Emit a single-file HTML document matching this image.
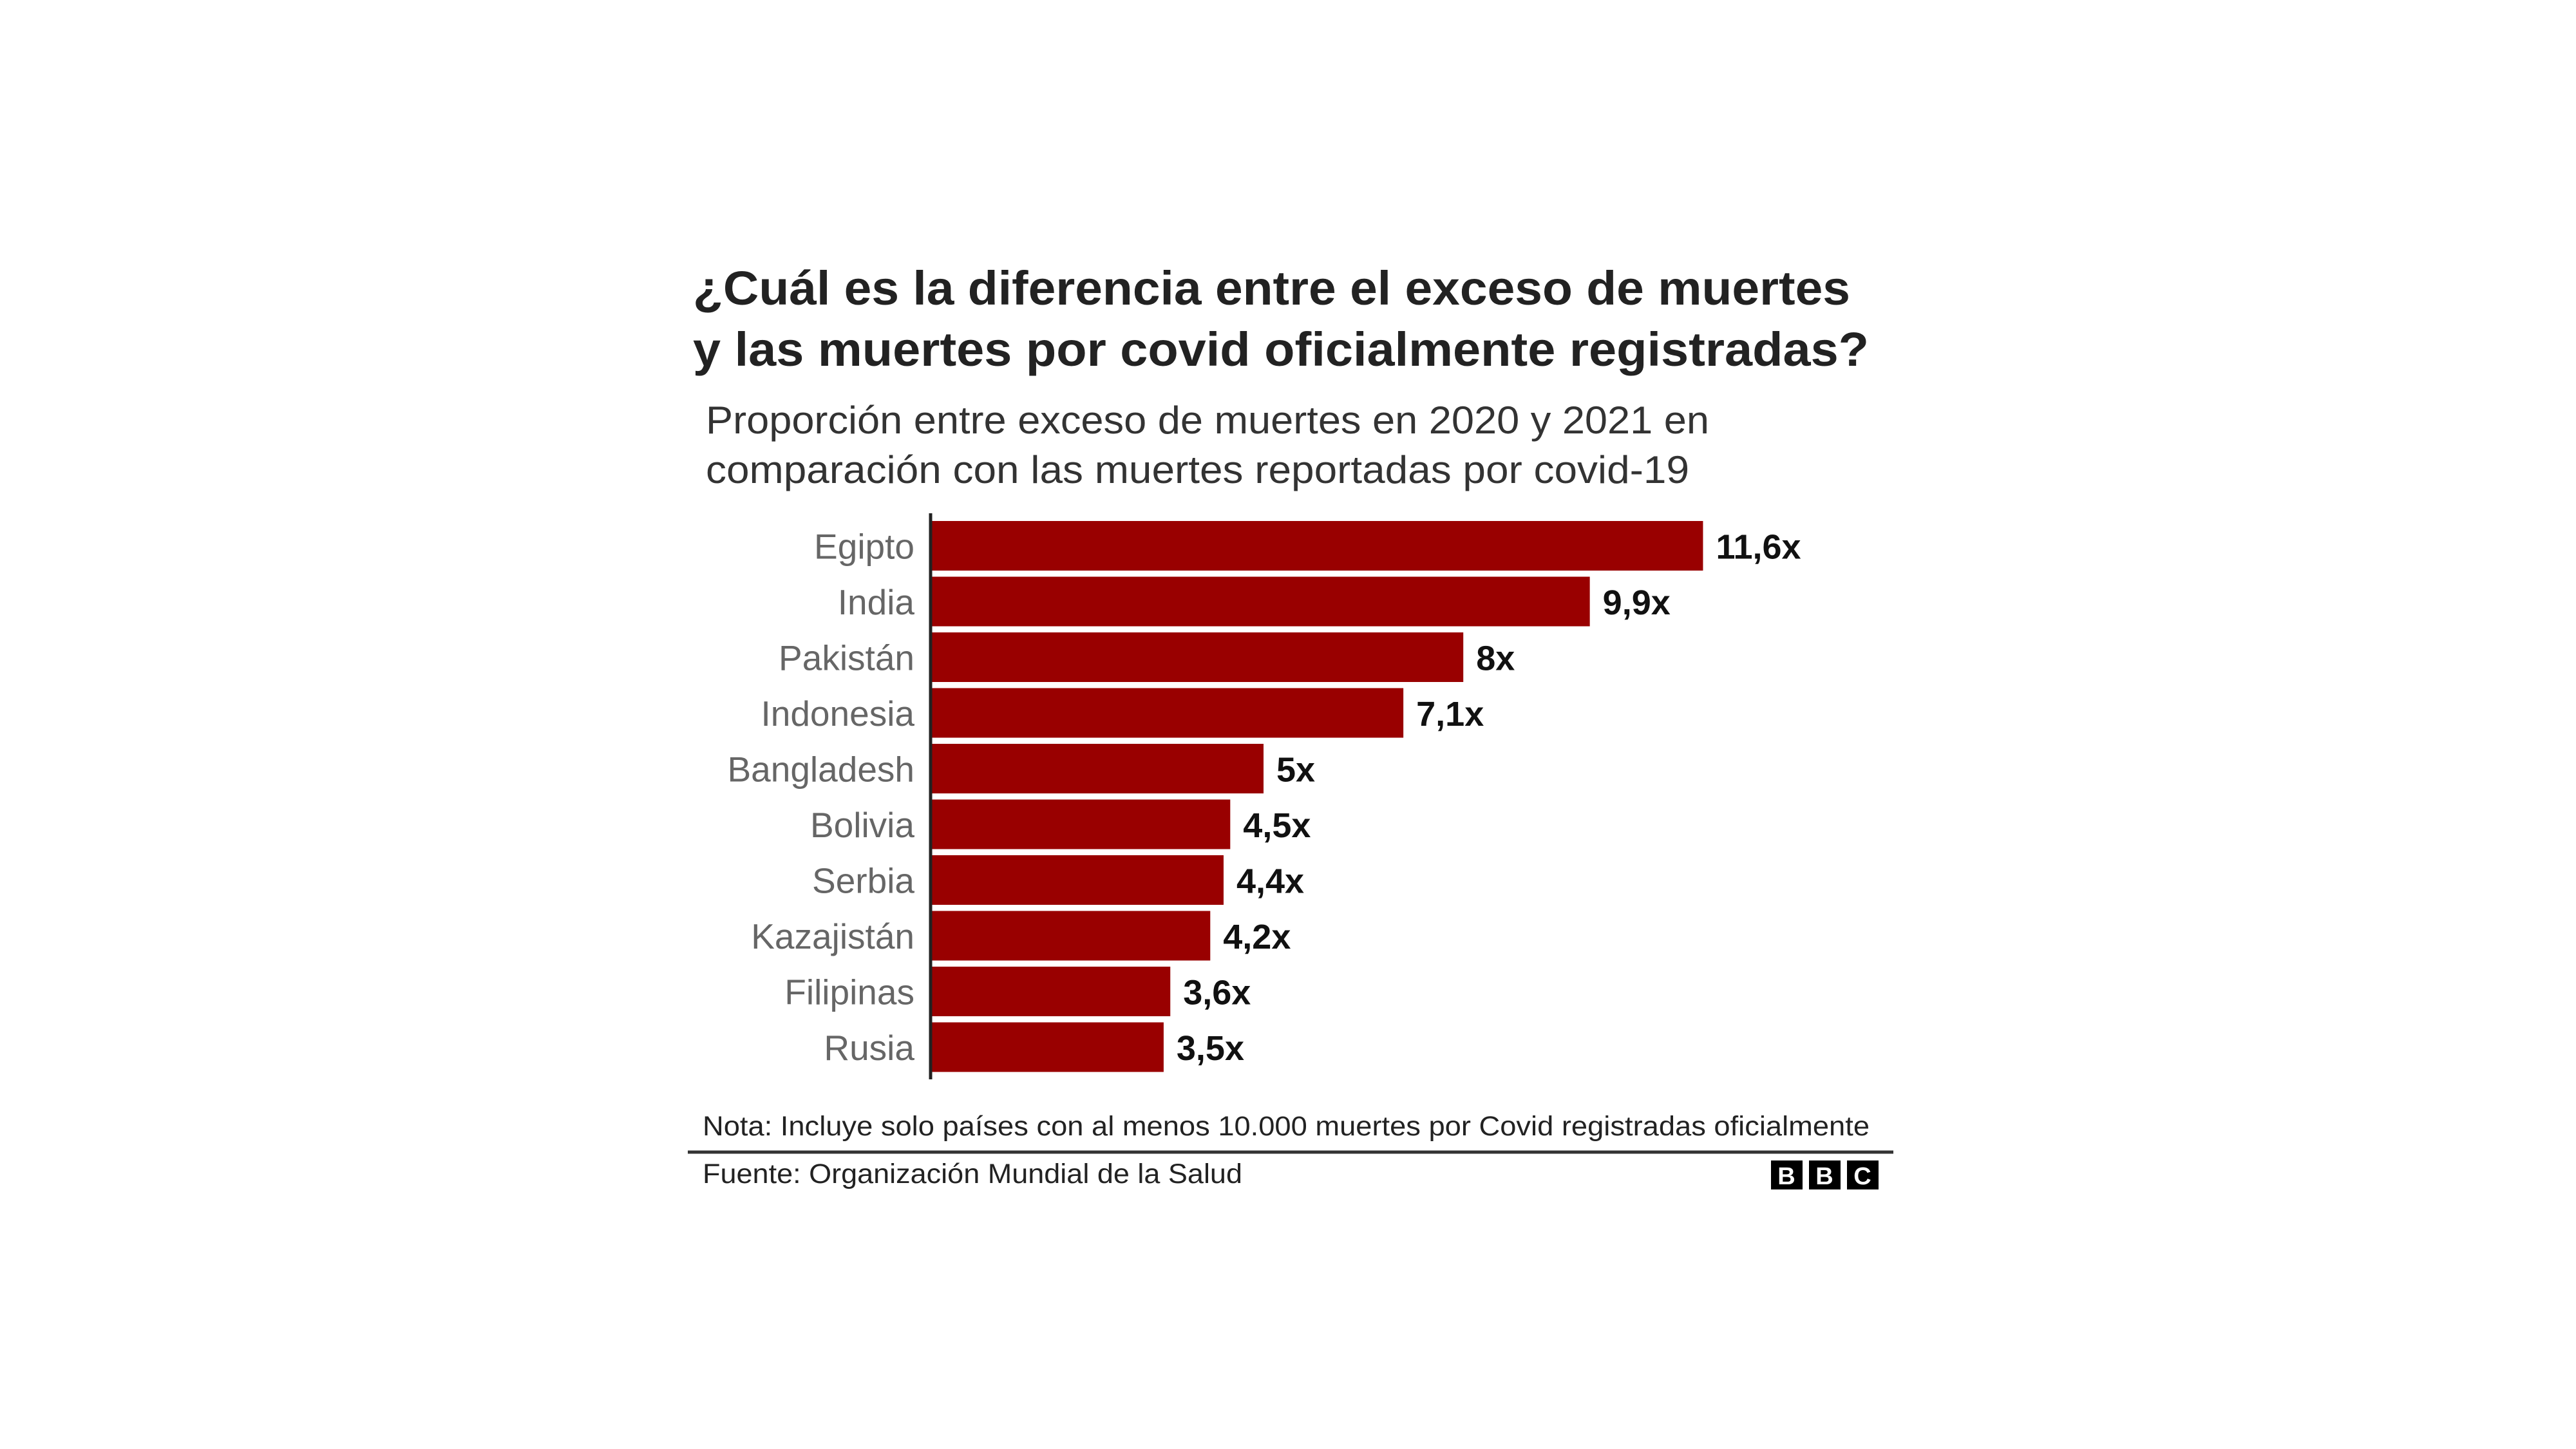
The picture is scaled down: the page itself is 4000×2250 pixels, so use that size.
<!DOCTYPE html>
<html><head><meta charset="utf-8"><style>
html,body{margin:0;padding:0;background:#fff}
svg{display:block}
</style></head><body>
<svg id="chart" width="4000" height="2250" viewBox="0 0 4000 2250" xmlns="http://www.w3.org/2000/svg" font-family="Liberation Sans, sans-serif">
<rect width="4000" height="2250" fill="#fff"/>
<g transform="translate(-6,-6)">
<text x="1082" y="479" font-size="74" font-weight="bold" fill="#222" textLength="1797" lengthAdjust="spacingAndGlyphs">¿Cuál es la diferencia entre el exceso de muertes</text>
<text x="1082" y="574" font-size="74" font-weight="bold" fill="#222" textLength="1826" lengthAdjust="spacingAndGlyphs">y las muertes por covid oficialmente registradas?</text>
<text x="1102" y="679" font-size="60" fill="#333" textLength="1558" lengthAdjust="spacingAndGlyphs">Proporción entre exceso de muertes en 2020 y 2021 en</text>
<text x="1102" y="756" font-size="60" fill="#333" textLength="1527" lengthAdjust="spacingAndGlyphs">comparación con las muertes reportadas por covid-19</text>
<g id="bars"></g>
<line x1="1451" y1="803" x2="1451" y2="1682" stroke="#222" stroke-width="5"/>
<text x="1097" y="1769" font-size="43" fill="#222" textLength="1812" lengthAdjust="spacingAndGlyphs">Nota: Incluye solo países con al menos 10.000 muertes por Covid registradas oficialmente</text>
<line x1="1074" y1="1795" x2="2946" y2="1795" stroke="#333" stroke-width="5"/>
<text x="1097" y="1843" font-size="43" fill="#222" textLength="838" lengthAdjust="spacingAndGlyphs">Fuente: Organización Mundial de la Salud</text>
<g>
<rect x="2756" y="1808" width="49" height="45" fill="#000"/>
<rect x="2815" y="1808" width="49" height="45" fill="#000"/>
<rect x="2874" y="1808" width="49" height="45" fill="#000"/>
<text x="2780" y="1845" font-size="38" font-weight="bold" fill="#fff" text-anchor="middle">B</text>
<text x="2839" y="1845" font-size="38" font-weight="bold" fill="#fff" text-anchor="middle">B</text>
<text x="2898" y="1845" font-size="38" font-weight="bold" fill="#fff" text-anchor="middle">C</text>
</g>
</g>
</svg>
<script>
const countries = ["Egipto","India","Pakistán","Indonesia","Bangladesh","Bolivia","Serbia","Kazajistán","Filipinas","Rusia"];
const ratios = [11.6,9.9,8,7.1,5,4.5,4.4,4.2,3.6,3.5];
const valueLabels = ["11,6x","9,9x","8x","7,1x","5x","4,5x","4,4x","4,2x","3,6x","3,5x"];

const NS = "http://www.w3.org/2000/svg";
const x0 = 1451, pxPerUnit = 103.4;
const xScale = v => x0 + v * pxPerUnit;
const rowTop = 815, rowStep = 86.5, barH = 77;
const yScale = i => rowTop + i * rowStep;
const g = document.getElementById('bars');
countries.forEach((c, i) => {
  const y = yScale(i);
  const r = document.createElementNS(NS, 'rect');
  r.setAttribute('x', x0); r.setAttribute('y', y);
  r.setAttribute('width', xScale(ratios[i]) - x0); r.setAttribute('height', barH);
  r.setAttribute('fill', '#990000');
  
  
  g.appendChild(r);
  const t = document.createElementNS(NS, 'text');
  t.setAttribute('x', 1426); t.setAttribute('y', y + barH / 2 + 20);
  t.setAttribute('text-anchor', 'end'); t.setAttribute('font-size', '55'); t.setAttribute('fill', '#666');
  t.textContent = c;
  
  
  g.appendChild(t);
  const v = document.createElementNS(NS, 'text');
  v.setAttribute('x', xScale(ratios[i]) + 20); v.setAttribute('y', y + barH / 2 + 20);
  v.setAttribute('font-size', '54'); v.setAttribute('font-weight', 'bold'); v.setAttribute('fill', '#111');
  v.textContent = valueLabels[i];
  
  
  g.appendChild(v);
});
</script>
</body></html>
